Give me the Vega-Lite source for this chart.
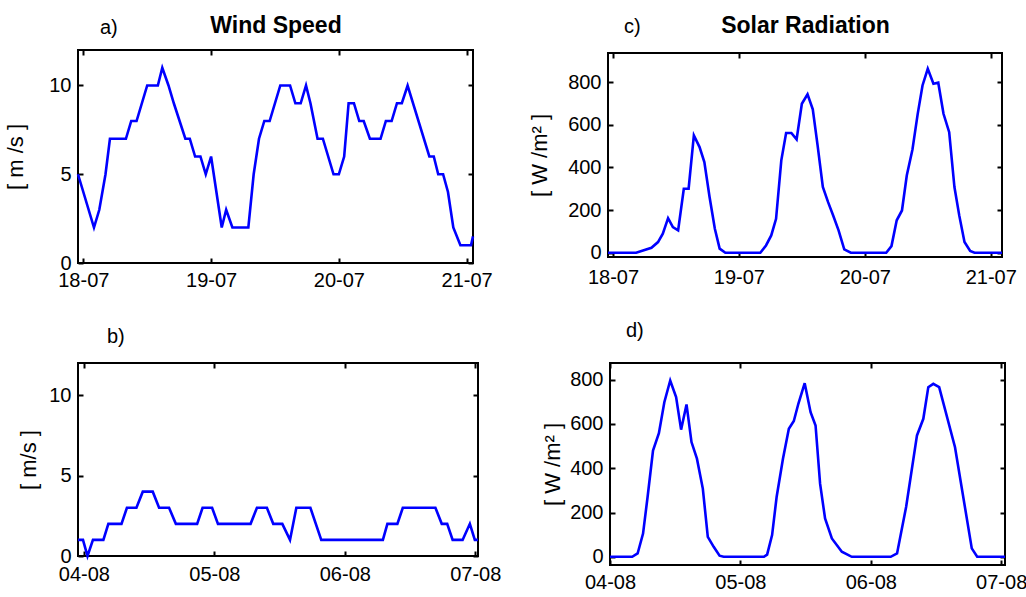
{
  "$schema": "https://vega.github.io/schema/vega-lite/v6.json",
  "background": "white",
  "padding": {"left": 3, "top": 13, "right": 0, "bottom": 0},
  "datasets": {
    "wind_jul": [
      {"time": "2013-07-17T23:00Z", "speed": 5},
      {"time": "2013-07-18T02:00Z", "speed": 2},
      {"time": "2013-07-18T03:00Z", "speed": 3},
      {"time": "2013-07-18T04:10Z", "speed": 5},
      {"time": "2013-07-18T05:00Z", "speed": 7},
      {"time": "2013-07-18T08:00Z", "speed": 7},
      {"time": "2013-07-18T09:00Z", "speed": 8},
      {"time": "2013-07-18T10:00Z", "speed": 8},
      {"time": "2013-07-18T12:00Z", "speed": 10},
      {"time": "2013-07-18T14:00Z", "speed": 10},
      {"time": "2013-07-18T14:50Z", "speed": 11},
      {"time": "2013-07-18T16:00Z", "speed": 10},
      {"time": "2013-07-18T17:00Z", "speed": 9},
      {"time": "2013-07-18T19:10Z", "speed": 7},
      {"time": "2013-07-18T20:00Z", "speed": 7},
      {"time": "2013-07-18T21:00Z", "speed": 6},
      {"time": "2013-07-18T22:00Z", "speed": 6},
      {"time": "2013-07-18T23:00Z", "speed": 5},
      {"time": "2013-07-19T00:00Z", "speed": 6},
      {"time": "2013-07-19T02:00Z", "speed": 2},
      {"time": "2013-07-19T02:50Z", "speed": 3},
      {"time": "2013-07-19T04:00Z", "speed": 2},
      {"time": "2013-07-19T07:00Z", "speed": 2},
      {"time": "2013-07-19T08:00Z", "speed": 5},
      {"time": "2013-07-19T09:00Z", "speed": 7},
      {"time": "2013-07-19T10:00Z", "speed": 8},
      {"time": "2013-07-19T11:00Z", "speed": 8},
      {"time": "2013-07-19T13:00Z", "speed": 10},
      {"time": "2013-07-19T14:50Z", "speed": 10},
      {"time": "2013-07-19T15:50Z", "speed": 9},
      {"time": "2013-07-19T16:50Z", "speed": 9},
      {"time": "2013-07-19T17:50Z", "speed": 10},
      {"time": "2013-07-19T18:40Z", "speed": 9},
      {"time": "2013-07-19T20:00Z", "speed": 7},
      {"time": "2013-07-19T21:00Z", "speed": 7},
      {"time": "2013-07-19T23:00Z", "speed": 5},
      {"time": "2013-07-20T00:00Z", "speed": 5},
      {"time": "2013-07-20T01:00Z", "speed": 6},
      {"time": "2013-07-20T01:50Z", "speed": 9},
      {"time": "2013-07-20T02:50Z", "speed": 9},
      {"time": "2013-07-20T03:50Z", "speed": 8},
      {"time": "2013-07-20T04:40Z", "speed": 8},
      {"time": "2013-07-20T05:50Z", "speed": 7},
      {"time": "2013-07-20T07:50Z", "speed": 7},
      {"time": "2013-07-20T08:50Z", "speed": 8},
      {"time": "2013-07-20T09:55Z", "speed": 8},
      {"time": "2013-07-20T10:55Z", "speed": 9},
      {"time": "2013-07-20T11:50Z", "speed": 9},
      {"time": "2013-07-20T12:55Z", "speed": 10},
      {"time": "2013-07-20T17:00Z", "speed": 6},
      {"time": "2013-07-20T17:50Z", "speed": 6},
      {"time": "2013-07-20T18:40Z", "speed": 5},
      {"time": "2013-07-20T19:35Z", "speed": 5},
      {"time": "2013-07-20T20:30Z", "speed": 4},
      {"time": "2013-07-20T21:30Z", "speed": 2},
      {"time": "2013-07-20T22:50Z", "speed": 1},
      {"time": "2013-07-21T00:50Z", "speed": 1},
      {"time": "2013-07-21T01:12Z", "speed": 1.5}
    ],
    "solar_jul": [
      {"time": "2013-07-17T23:03Z", "radiation": 0},
      {"time": "2013-07-18T04:25Z", "radiation": 0},
      {"time": "2013-07-18T07:20Z", "radiation": 23},
      {"time": "2013-07-18T08:35Z", "radiation": 50},
      {"time": "2013-07-18T09:30Z", "radiation": 89},
      {"time": "2013-07-18T10:30Z", "radiation": 162},
      {"time": "2013-07-18T11:25Z", "radiation": 120},
      {"time": "2013-07-18T12:25Z", "radiation": 105},
      {"time": "2013-07-18T13:30Z", "radiation": 300},
      {"time": "2013-07-18T14:25Z", "radiation": 300},
      {"time": "2013-07-18T15:25Z", "radiation": 550},
      {"time": "2013-07-18T16:30Z", "radiation": 495},
      {"time": "2013-07-18T17:25Z", "radiation": 425},
      {"time": "2013-07-18T18:25Z", "radiation": 260},
      {"time": "2013-07-18T19:25Z", "radiation": 112},
      {"time": "2013-07-18T20:20Z", "radiation": 19},
      {"time": "2013-07-18T21:25Z", "radiation": 0},
      {"time": "2013-07-19T04:05Z", "radiation": 0},
      {"time": "2013-07-19T05:10Z", "radiation": 34},
      {"time": "2013-07-19T06:10Z", "radiation": 81},
      {"time": "2013-07-19T07:05Z", "radiation": 159},
      {"time": "2013-07-19T08:05Z", "radiation": 433},
      {"time": "2013-07-19T09:00Z", "radiation": 561},
      {"time": "2013-07-19T10:00Z", "radiation": 561},
      {"time": "2013-07-19T11:00Z", "radiation": 531},
      {"time": "2013-07-19T12:00Z", "radiation": 698},
      {"time": "2013-07-19T13:05Z", "radiation": 742},
      {"time": "2013-07-19T14:05Z", "radiation": 672},
      {"time": "2013-07-19T15:00Z", "radiation": 503},
      {"time": "2013-07-19T16:00Z", "radiation": 308},
      {"time": "2013-07-19T17:00Z", "radiation": 237},
      {"time": "2013-07-19T17:55Z", "radiation": 178},
      {"time": "2013-07-19T19:00Z", "radiation": 105},
      {"time": "2013-07-19T20:05Z", "radiation": 16},
      {"time": "2013-07-19T21:20Z", "radiation": 0},
      {"time": "2013-07-20T04:05Z", "radiation": 0},
      {"time": "2013-07-20T05:05Z", "radiation": 31},
      {"time": "2013-07-20T06:05Z", "radiation": 152},
      {"time": "2013-07-20T07:05Z", "radiation": 198},
      {"time": "2013-07-20T08:00Z", "radiation": 362},
      {"time": "2013-07-20T09:05Z", "radiation": 484},
      {"time": "2013-07-20T10:05Z", "radiation": 651},
      {"time": "2013-07-20T11:00Z", "radiation": 784},
      {"time": "2013-07-20T12:00Z", "radiation": 862},
      {"time": "2013-07-20T13:05Z", "radiation": 792},
      {"time": "2013-07-20T14:00Z", "radiation": 797},
      {"time": "2013-07-20T15:00Z", "radiation": 651},
      {"time": "2013-07-20T16:05Z", "radiation": 565},
      {"time": "2013-07-20T17:05Z", "radiation": 308},
      {"time": "2013-07-20T18:00Z", "radiation": 175},
      {"time": "2013-07-20T19:00Z", "radiation": 50},
      {"time": "2013-07-20T20:05Z", "radiation": 8},
      {"time": "2013-07-20T20:55Z", "radiation": 0},
      {"time": "2013-07-21T02:09Z", "radiation": 0}
    ],
    "wind_aug": [
      {"time": "2013-08-03T22:55Z", "speed": 1},
      {"time": "2013-08-03T23:50Z", "speed": 1},
      {"time": "2013-08-04T00:40Z", "speed": 0},
      {"time": "2013-08-04T01:40Z", "speed": 1},
      {"time": "2013-08-04T03:35Z", "speed": 1},
      {"time": "2013-08-04T04:30Z", "speed": 2},
      {"time": "2013-08-04T06:55Z", "speed": 2},
      {"time": "2013-08-04T07:55Z", "speed": 3},
      {"time": "2013-08-04T09:40Z", "speed": 3},
      {"time": "2013-08-04T10:50Z", "speed": 4},
      {"time": "2013-08-04T12:40Z", "speed": 4},
      {"time": "2013-08-04T13:50Z", "speed": 3},
      {"time": "2013-08-04T15:40Z", "speed": 3},
      {"time": "2013-08-04T16:55Z", "speed": 2},
      {"time": "2013-08-04T20:50Z", "speed": 2},
      {"time": "2013-08-04T21:50Z", "speed": 3},
      {"time": "2013-08-04T23:35Z", "speed": 3},
      {"time": "2013-08-05T00:40Z", "speed": 2},
      {"time": "2013-08-05T06:40Z", "speed": 2},
      {"time": "2013-08-05T07:50Z", "speed": 3},
      {"time": "2013-08-05T09:40Z", "speed": 3},
      {"time": "2013-08-05T10:50Z", "speed": 2},
      {"time": "2013-08-05T12:30Z", "speed": 2},
      {"time": "2013-08-05T13:55Z", "speed": 1},
      {"time": "2013-08-05T15:05Z", "speed": 3},
      {"time": "2013-08-05T17:40Z", "speed": 3},
      {"time": "2013-08-05T19:40Z", "speed": 1},
      {"time": "2013-08-06T07:00Z", "speed": 1},
      {"time": "2013-08-06T07:50Z", "speed": 2},
      {"time": "2013-08-06T09:40Z", "speed": 2},
      {"time": "2013-08-06T10:40Z", "speed": 3},
      {"time": "2013-08-06T16:40Z", "speed": 3},
      {"time": "2013-08-06T17:50Z", "speed": 2},
      {"time": "2013-08-06T18:50Z", "speed": 2},
      {"time": "2013-08-06T19:50Z", "speed": 1},
      {"time": "2013-08-06T21:40Z", "speed": 1},
      {"time": "2013-08-06T23:00Z", "speed": 2},
      {"time": "2013-08-06T23:55Z", "speed": 1},
      {"time": "2013-08-07T00:30Z", "speed": 1}
    ],
    "solar_aug": [
      {"time": "2013-08-04T00:00Z", "radiation": 0},
      {"time": "2013-08-04T04:05Z", "radiation": 0},
      {"time": "2013-08-04T05:05Z", "radiation": 15},
      {"time": "2013-08-04T06:05Z", "radiation": 105},
      {"time": "2013-08-04T06:55Z", "radiation": 270},
      {"time": "2013-08-04T07:55Z", "radiation": 480},
      {"time": "2013-08-04T09:00Z", "radiation": 558},
      {"time": "2013-08-04T10:00Z", "radiation": 698},
      {"time": "2013-08-04T11:05Z", "radiation": 796},
      {"time": "2013-08-04T12:10Z", "radiation": 721},
      {"time": "2013-08-04T13:05Z", "radiation": 574},
      {"time": "2013-08-04T14:05Z", "radiation": 688},
      {"time": "2013-08-04T15:00Z", "radiation": 518},
      {"time": "2013-08-04T16:00Z", "radiation": 443},
      {"time": "2013-08-04T17:05Z", "radiation": 308},
      {"time": "2013-08-04T18:00Z", "radiation": 90},
      {"time": "2013-08-04T19:05Z", "radiation": 45},
      {"time": "2013-08-04T20:10Z", "radiation": 5},
      {"time": "2013-08-04T20:55Z", "radiation": 0},
      {"time": "2013-08-05T04:20Z", "radiation": 0},
      {"time": "2013-08-05T04:55Z", "radiation": 10},
      {"time": "2013-08-05T05:50Z", "radiation": 98},
      {"time": "2013-08-05T06:40Z", "radiation": 270},
      {"time": "2013-08-05T07:50Z", "radiation": 443},
      {"time": "2013-08-05T08:55Z", "radiation": 578},
      {"time": "2013-08-05T09:50Z", "radiation": 613},
      {"time": "2013-08-05T10:40Z", "radiation": 691},
      {"time": "2013-08-05T11:50Z", "radiation": 784},
      {"time": "2013-08-05T12:55Z", "radiation": 653},
      {"time": "2013-08-05T13:50Z", "radiation": 593},
      {"time": "2013-08-05T14:40Z", "radiation": 330},
      {"time": "2013-08-05T15:35Z", "radiation": 173},
      {"time": "2013-08-05T16:50Z", "radiation": 83},
      {"time": "2013-08-05T18:40Z", "radiation": 23},
      {"time": "2013-08-05T20:30Z", "radiation": 0},
      {"time": "2013-08-06T03:40Z", "radiation": 0},
      {"time": "2013-08-06T04:50Z", "radiation": 15},
      {"time": "2013-08-06T06:30Z", "radiation": 225},
      {"time": "2013-08-06T08:30Z", "radiation": 548},
      {"time": "2013-08-06T09:40Z", "radiation": 623},
      {"time": "2013-08-06T10:35Z", "radiation": 766},
      {"time": "2013-08-06T11:30Z", "radiation": 781},
      {"time": "2013-08-06T12:35Z", "radiation": 766},
      {"time": "2013-08-06T15:30Z", "radiation": 495},
      {"time": "2013-08-06T18:35Z", "radiation": 38},
      {"time": "2013-08-06T19:35Z", "radiation": 0},
      {"time": "2013-08-07T00:42Z", "radiation": 0}
    ]
  },
  "vconcat": [
    {
      "hconcat": [
        {
          "width": 395,
          "height": 213,
          "title": {"text": "a)", "dx": 22, "dy": 28},
          "data": {"name": "wind_jul"},
          "layer": [
            {
              "mark": {"type": "line", "color": "#0000ff", "strokeWidth": 2.6},
              "encoding": {
                "x": {"field": "time", "type": "temporal",
                  "scale": {"type": "utc", "nice": false, "domain": [{"year": 2013, "month": 7, "date": 17, "hours": 23, "utc": true}, {"year": 2013, "month": 7, "date": 21, "hours": 1, "minutes": 12, "utc": true}]},
                  "axis": {"orient": "bottom", "title": null, "format": "%d-%m", "labelPadding": 12, "values": [{"year": 2013, "month": 7, "date": 18, "utc": true}, {"year": 2013, "month": 7, "date": 19, "utc": true}, {"year": 2013, "month": 7, "date": 20, "utc": true}, {"year": 2013, "month": 7, "date": 21, "utc": true}]}},
                "y": {"field": "speed", "type": "quantitative",
                  "scale": {"domain": [0, 12], "nice": false},
                  "axis": {"orient": "left", "title": "[ m /s ]", "values": [0, 5, 10], "titlePadding": 21}}
              }
            },
            {
              "mark": {"type": "line", "opacity": 0},
              "encoding": {
                "x": {"field": "time", "type": "temporal",
                  "scale": {"type": "utc", "nice": false, "domain": [{"year": 2013, "month": 7, "date": 17, "hours": 23, "utc": true}, {"year": 2013, "month": 7, "date": 21, "hours": 1, "minutes": 12, "utc": true}]},
                  "axis": {"orient": "top", "labels": false, "title": "Wind Speed", "titleFontWeight": "bold", "titleFontSize": 23, "titlePadding": 12, "values": [{"year": 2013, "month": 7, "date": 18, "utc": true}, {"year": 2013, "month": 7, "date": 19, "utc": true}, {"year": 2013, "month": 7, "date": 20, "utc": true}, {"year": 2013, "month": 7, "date": 21, "utc": true}]}},
                "y": {"field": "speed", "type": "quantitative",
                  "scale": {"domain": [0, 12], "nice": false},
                  "axis": {"orient": "right", "labels": false, "title": null, "values": [0, 5, 10]}}
              }
            }
          ],
          "resolve": {"axis": {"x": "independent", "y": "independent"}}
        },
        {
          "width": 394,
          "height": 204,
          "title": {"text": "c)", "dx": 16, "dy": 27},
          "data": {"name": "solar_jul"},
          "layer": [
            {
              "mark": {"type": "line", "color": "#0000ff", "strokeWidth": 2.6},
              "encoding": {
                "x": {"field": "time", "type": "temporal",
                  "scale": {"type": "utc", "nice": false, "domain": [{"year": 2013, "month": 7, "date": 17, "hours": 23, "minutes": 3, "utc": true}, {"year": 2013, "month": 7, "date": 21, "hours": 2, "minutes": 9, "utc": true}]},
                  "axis": {"orient": "bottom", "title": null, "format": "%d-%m", "labelPadding": 15, "values": [{"year": 2013, "month": 7, "date": 18, "utc": true}, {"year": 2013, "month": 7, "date": 19, "utc": true}, {"year": 2013, "month": 7, "date": 20, "utc": true}, {"year": 2013, "month": 7, "date": 21, "utc": true}]}},
                "y": {"field": "radiation", "type": "quantitative",
                  "scale": {"domain": [-20, 936], "nice": false},
                  "axis": {"orient": "left", "title": "[ W /m² ]", "values": [0, 200, 400, 600, 800], "titlePadding": 16}}
              }
            },
            {
              "mark": {"type": "line", "opacity": 0},
              "encoding": {
                "x": {"field": "time", "type": "temporal",
                  "scale": {"type": "utc", "nice": false, "domain": [{"year": 2013, "month": 7, "date": 17, "hours": 23, "minutes": 3, "utc": true}, {"year": 2013, "month": 7, "date": 21, "hours": 2, "minutes": 9, "utc": true}]},
                  "axis": {"orient": "top", "labels": false, "title": "Solar Radiation", "titleFontWeight": "bold", "titleFontSize": 23, "titlePadding": 15, "values": [{"year": 2013, "month": 7, "date": 18, "utc": true}, {"year": 2013, "month": 7, "date": 19, "utc": true}, {"year": 2013, "month": 7, "date": 20, "utc": true}, {"year": 2013, "month": 7, "date": 21, "utc": true}]}},
                "y": {"field": "radiation", "type": "quantitative",
                  "scale": {"domain": [-20, 936], "nice": false},
                  "axis": {"orient": "right", "labels": false, "title": null, "values": [0, 200, 400, 600, 800]}}
              }
            }
          ],
          "resolve": {"axis": {"x": "independent", "y": "independent"}}
        }
      ],
      "spacing": 33,
      "center": true
    },
    {
      "hconcat": [
        {
          "width": 400,
          "height": 193,
          "title": {"text": "b)", "dx": 29, "offset": 15},
          "data": {"name": "wind_aug"},
          "layer": [
            {
              "mark": {"type": "line", "color": "#0000ff", "strokeWidth": 2.6},
              "encoding": {
                "x": {"field": "time", "type": "temporal",
                  "scale": {"type": "utc", "nice": false, "domain": [{"year": 2013, "month": 8, "date": 3, "hours": 22, "minutes": 55, "utc": true}, {"year": 2013, "month": 8, "date": 7, "hours": 0, "minutes": 30, "utc": true}]},
                  "axis": {"orient": "bottom", "title": null, "format": "%d-%m", "labelPadding": 13, "values": [{"year": 2013, "month": 8, "date": 4, "utc": true}, {"year": 2013, "month": 8, "date": 5, "utc": true}, {"year": 2013, "month": 8, "date": 6, "utc": true}, {"year": 2013, "month": 8, "date": 7, "utc": true}]}},
                "y": {"field": "speed", "type": "quantitative",
                  "scale": {"domain": [0, 12], "nice": false},
                  "axis": {"orient": "left", "title": "[ m/s ]", "values": [0, 5, 10], "titlePadding": 8}}
              }
            },
            {
              "mark": {"type": "line", "opacity": 0},
              "encoding": {
                "x": {"field": "time", "type": "temporal",
                  "scale": {"type": "utc", "nice": false, "domain": [{"year": 2013, "month": 8, "date": 3, "hours": 22, "minutes": 55, "utc": true}, {"year": 2013, "month": 8, "date": 7, "hours": 0, "minutes": 30, "utc": true}]},
                  "axis": {"orient": "top", "labels": false, "title": null, "values": [{"year": 2013, "month": 8, "date": 4, "utc": true}, {"year": 2013, "month": 8, "date": 5, "utc": true}, {"year": 2013, "month": 8, "date": 6, "utc": true}, {"year": 2013, "month": 8, "date": 7, "utc": true}]}},
                "y": {"field": "speed", "type": "quantitative",
                  "scale": {"domain": [0, 12], "nice": false},
                  "axis": {"orient": "right", "labels": false, "title": null, "values": [0, 5, 10]}}
              }
            }
          ],
          "resolve": {"axis": {"x": "independent", "y": "independent"}}
        },
        {
          "width": 395,
          "height": 202,
          "title": {"text": "d)", "dx": 16, "offset": 21},
          "data": {"name": "solar_aug"},
          "layer": [
            {
              "mark": {"type": "line", "color": "#0000ff", "strokeWidth": 2.6},
              "encoding": {
                "x": {"field": "time", "type": "temporal",
                  "scale": {"type": "utc", "nice": false, "domain": [{"year": 2013, "month": 8, "date": 4, "utc": true}, {"year": 2013, "month": 8, "date": 7, "hours": 0, "minutes": 42, "utc": true}]},
                  "axis": {"orient": "bottom", "title": null, "format": "%d-%m", "labelPadding": 12, "values": [{"year": 2013, "month": 8, "date": 4, "utc": true}, {"year": 2013, "month": 8, "date": 5, "utc": true}, {"year": 2013, "month": 8, "date": 6, "utc": true}, {"year": 2013, "month": 8, "date": 7, "utc": true}]}},
                "y": {"field": "radiation", "type": "quantitative",
                  "scale": {"domain": [-37, 875], "nice": false},
                  "axis": {"orient": "left", "title": "[ W /m² ]", "values": [0, 200, 400, 600, 800], "titlePadding": 5}}
              }
            },
            {
              "mark": {"type": "line", "opacity": 0},
              "encoding": {
                "x": {"field": "time", "type": "temporal",
                  "scale": {"type": "utc", "nice": false, "domain": [{"year": 2013, "month": 8, "date": 4, "utc": true}, {"year": 2013, "month": 8, "date": 7, "hours": 0, "minutes": 42, "utc": true}]},
                  "axis": {"orient": "top", "labels": false, "title": null, "values": [{"year": 2013, "month": 8, "date": 4, "utc": true}, {"year": 2013, "month": 8, "date": 5, "utc": true}, {"year": 2013, "month": 8, "date": 6, "utc": true}, {"year": 2013, "month": 8, "date": 7, "utc": true}]}},
                "y": {"field": "radiation", "type": "quantitative",
                  "scale": {"domain": [-37, 875], "nice": false},
                  "axis": {"orient": "right", "labels": false, "title": null, "values": [0, 200, 400, 600, 800]}}
              }
            }
          ],
          "resolve": {"axis": {"x": "independent", "y": "independent"}}
        }
      ],
      "spacing": 38
    }
  ],
  "spacing": 29,
  "config": {
    "font": "Liberation Sans",
    "view": {"stroke": "#000000", "strokeWidth": 2},
    "axis": {
      "domain": false,
      "tickColor": "#000000",
      "tickOpacity": 1,
      "tickWidth": 2,
      "tickSize": -5,
      "labelFontSize": 20,
      "labelColor": "black",
      "labelPadding": 12,
      "labelFlush": false,
      "labelOverlap": false,
      "labelBound": false,
      "titleFontSize": 22,
      "titleFontWeight": "normal",
      "titleColor": "black",
      "grid": false
    },
    "title": {
      "fontSize": 20,
      "fontWeight": "normal",
      "color": "black",
      "anchor": "start",
      "frame": "group"
    }
  }
}
